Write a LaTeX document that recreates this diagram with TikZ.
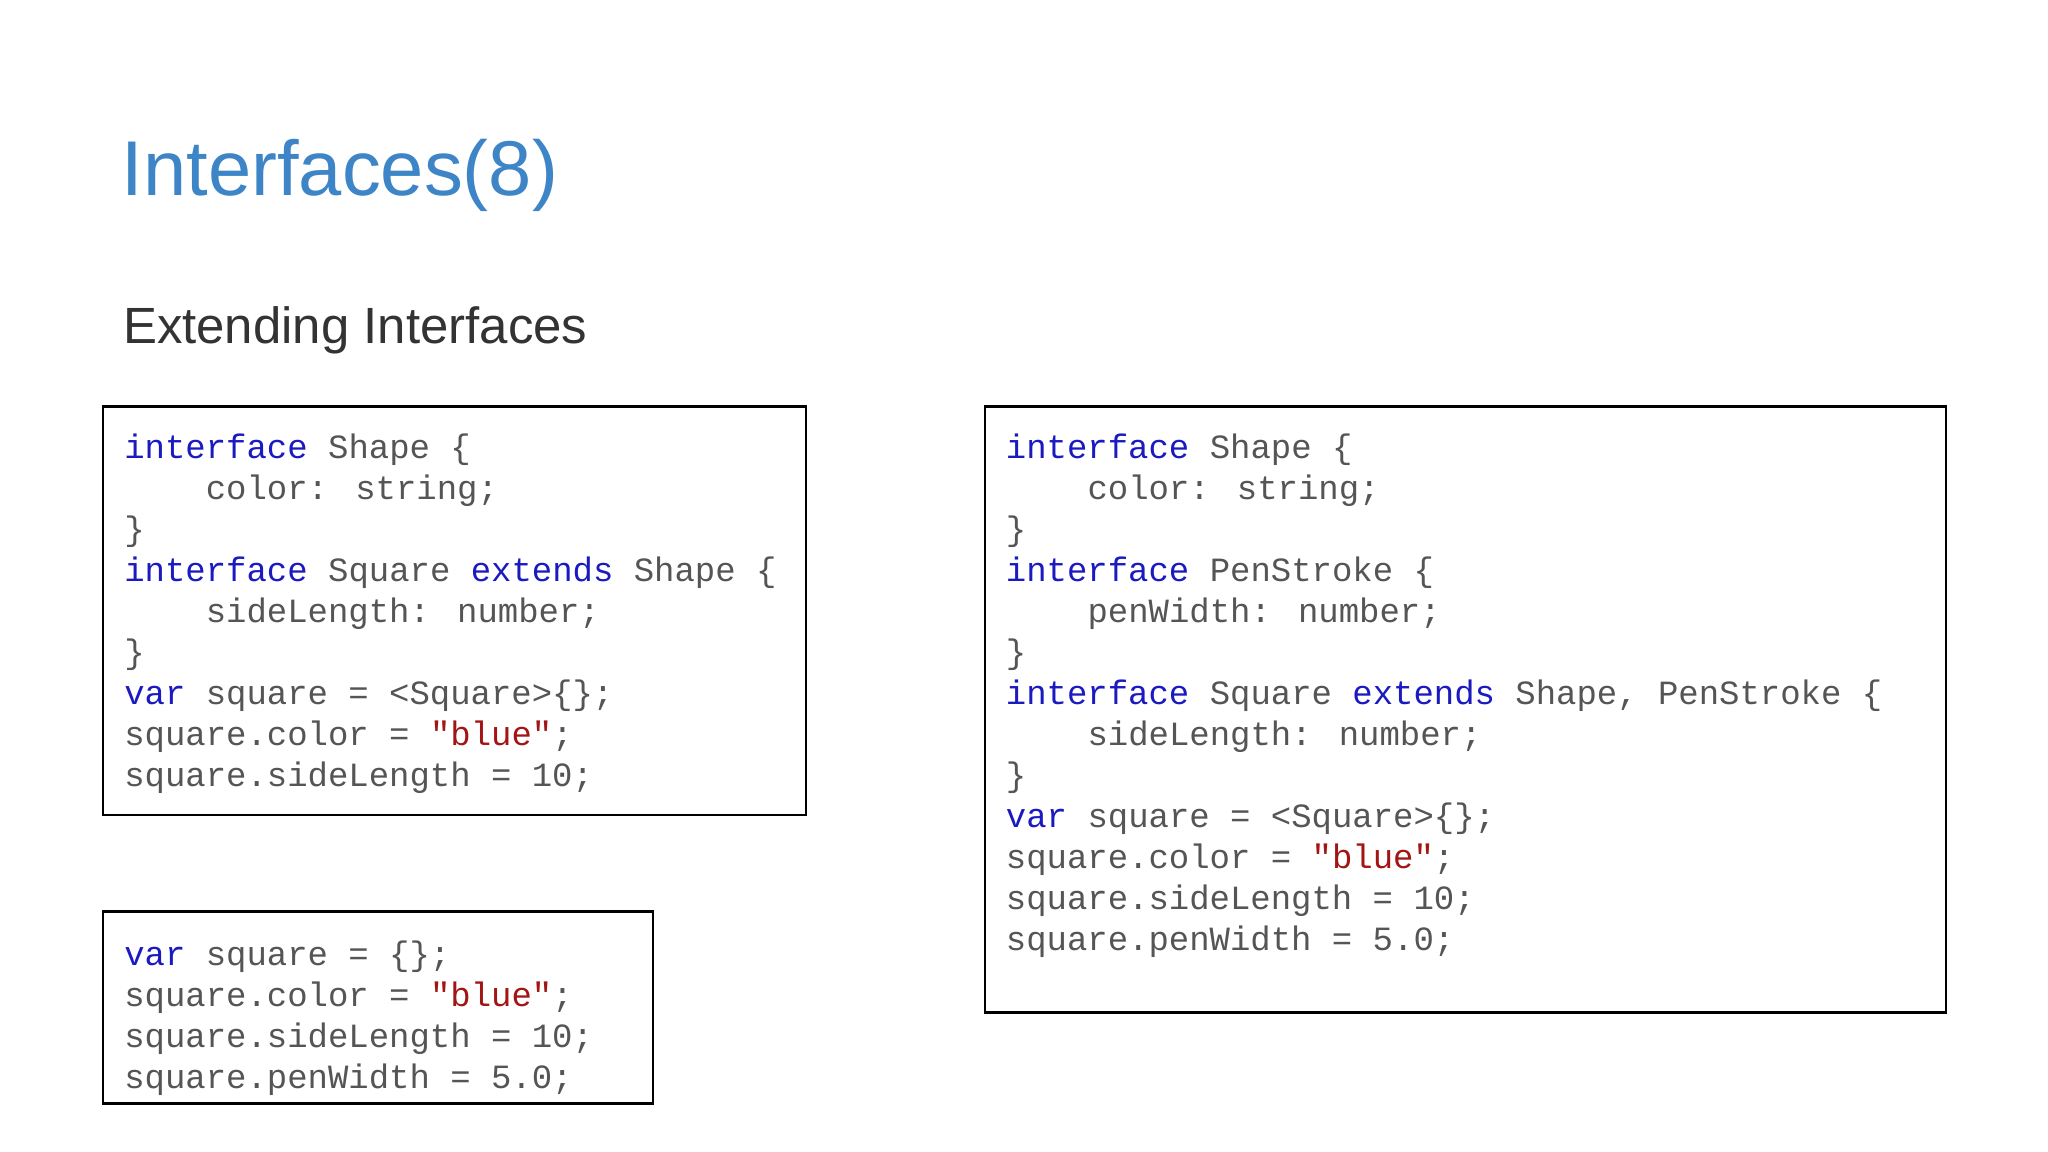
\documentclass[tikz,border=0pt]{standalone}
\usepackage{fontspec}
\setmainfont{Liberation Sans}
\newfontfamily\codefont{Liberation Mono}
\definecolor{titleblue}{HTML}{3D85C6}
\definecolor{subgray}{HTML}{333333}
\definecolor{codegray}{HTML}{555555}
\definecolor{kw}{HTML}{1A1AC0}
\definecolor{str}{HTML}{A31515}
\newcommand{\kw}[1]{\textcolor{kw}{#1}}
\newcommand{\str}[1]{\textcolor{str}{#1}}
\tikzset{
  codebox/.style={draw=black, line width=2pt},
  code/.style={anchor=north west, inner sep=0pt, align=left, text=codegray,
    font=\codefont\fontsize{26}{31.4}\selectfont},
}
\begin{document}
\begin{tikzpicture}[x=1pt,y=-1pt]
\useasboundingbox[fill=white] (0,0) rectangle (1568,882);
\node[anchor=base west, inner sep=0pt, text=titleblue, font=\fontsize{59.5}{66}\selectfont] (title) at (93,150) {Interfaces(8)};
\node[anchor=base west, inner sep=0pt, text=subgray, font=\fontsize{39}{46}\selectfont] (sub) at (94,263) {Extending Interfaces};
\draw[codebox] (79,311) rectangle (617,624);
\draw[codebox] (79,698) rectangle (500,845);
\draw[codebox] (754,311) rectangle (1490,775);
\node[code] (c1) at (95,329) {\strut\kw{interface} Shape \{\\
\ \ \ \ color: string;\\
\}\\
\kw{interface} Square \kw{extends} Shape \{\\
\ \ \ \ sideLength: number;\\
\}\\
\kw{var} square = <Square>\{\};\\
square.color = \str{"blue"};\\
square.sideLength = 10;};
\node[code] (c2) at (95,717) {\strut\kw{var} square = \{\};\\
square.color = \str{"blue"};\\
square.sideLength = 10;\\
square.penWidth = 5.0;};
\node[code] (c3) at (770,329) {\strut\kw{interface} Shape \{\\
\ \ \ \ color: string;\\
\}\\
\kw{interface} PenStroke \{\\
\ \ \ \ penWidth: number;\\
\}\\
\kw{interface} Square \kw{extends} Shape, PenStroke \{\\
\ \ \ \ sideLength: number;\\
\}\\
\kw{var} square = <Square>\{\};\\
square.color = \str{"blue"};\\
square.sideLength = 10;\\
square.penWidth = 5.0;};
\end{tikzpicture}
\end{document}
